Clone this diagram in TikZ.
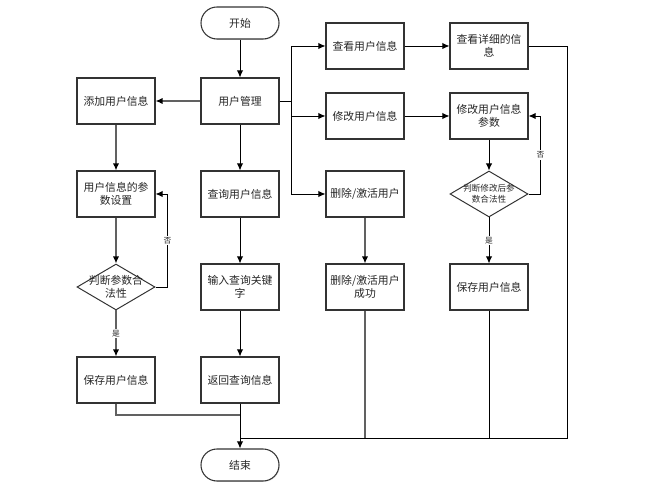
\documentclass[tikz,border=0pt]{standalone}
\usepackage{fontspec}
\setmainfont{Noto Sans CJK SC}
\usetikzlibrary{arrows.meta,shapes.geometric,shadows}
\begin{document}
\begin{tikzpicture}[x=0.025cm,y=-0.025cm,
    box/.style={draw=black!80,line width=0.75pt,fill=white,minimum width=1.95cm,minimum height=1.15cm,
      inner sep=0pt,align=center,font=\fontsize{7.7}{9.5}\selectfont,text=black!85,
      drop shadow={opacity=0.2,shadow xshift=0.6pt,shadow yshift=-0.6pt}},
    term/.style={box,minimum height=0.8cm,rounded corners=0.4cm},
    dia/.style={draw=black!80,line width=0.7pt,fill=white,diamond,minimum width=1.95cm,minimum height=1.15cm,inner sep=0pt},
    dtext/.style={align=center,font=\fontsize{7.7}{9.5}\selectfont,text=black!85},
    line/.style={draw=black,line width=0.65pt},
    gline/.style={draw=black!62,line width=1pt},
    arr/.style={line,-{Latex[length=5pt,width=4.5pt]}},
    garr/.style={gline,-{Latex[length=5pt,width=4.5pt,color=black]}},
    lab/.style={fill=white,inner sep=1pt,font=\fontsize{5.5}{6}\selectfont,text=black!85}]
  \useasboundingbox (0,0) rectangle (651,491);

  \node[term] (m1)  at  (240, 23){开始};
  \node[box]  (m2)  at  (240,101){用户管理};
  \node[box]  (m3)  at  (116,101){添加用户信息};
  \node[box]  (m4)  at  (116,194){用户信息的参\\数设置};
  \node[dia]  (m5)  at  (116,287){};
  \node[dtext] at (m5) {判断参数合\\法性};
  \node[box]  (m6)  at  (116,380){保存用户信息};
  \node[box]  (m7)  at  (240,194){查询用户信息};
  \node[box]  (m8)  at  (240,287){输入查询关键\\字};
  \node[box]  (m9)  at  (240,380){返回查询信息};
  \node[box]  (m10) at  (365, 46){查看用户信息};
  \node[box]  (m11) at  (489, 46){查看详细的信\\息};
  \node[box]  (m12) at  (365,116){修改用户信息};
  \node[box]  (m13) at  (489,116){修改用户信息\\参数};
  \node[box]  (m14) at  (365,194){删除/激活用户};
  \node[dia]  (m15) at  (489,194){};
  \node[dtext,font=\fontsize{6.1}{8}\selectfont] at (m15) {判断修改后参\\数合法性};
  \node[box]  (m16) at  (489,287){保存用户信息};
  \node[box]  (m18) at  (365,287){删除/激活用户\\成功};
  \node[term] (m17) at  (240,465){结束};

  \coordinate (c1) at (567,438);
  \coordinate (c2) at (240,438);
  \coordinate (c3) at (240,415);

  \draw[arr] (m1) -- (m2);
  \draw[garr] (m2) -- (m3);
  \draw[garr] (m3) -- (m4);
  \draw[garr] (m4) -- (m5);
  \draw[garr] (m5) -- node[lab]{是} (m6);
  \draw[arr] (m5.east) -- ++(12,0) |- node[lab,pos=0.25]{否} (m4.east);
  \draw[gline] (m6) |- (c3);

  \draw[arr] (m2) -- (m7);
  \draw[arr] (m7) -- (m8);
  \draw[arr] (m8) -- (m9);
  \draw[arr] (m9) -- (m17);

  \draw[line] (m2.east) -- ++(12,0) coordinate (bus);
  \draw[arr] (bus) |- (m10);
  \draw[arr] (bus) |- (m12);
  \draw[arr] (bus) |- (m14);

  \draw[arr] (m10) -- (m11);
  \draw[arr] (m12) -- (m13);
  \draw[arr] (m13) -- (m15);
  \draw[arr] (m15) -- node[lab]{是} (m16);
  \draw[arr] (m15.east) -- ++(12,0) |- node[lab,pos=0.25]{否} (m13.east);
  \draw[garr] (m14) -- (m18);

  \draw[line] (m11.east) -| (c1) -- (c2);
  \draw[gline] (m18) -- (m18 |- c1);
  \draw[line] (m16) -- (m16 |- c1);
\end{tikzpicture}
\end{document}
